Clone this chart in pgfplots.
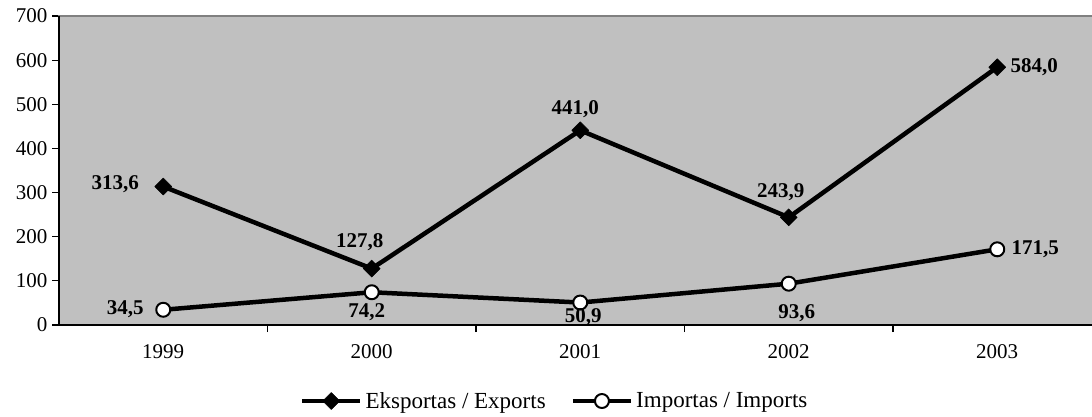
\documentclass[border=0pt]{standalone}
\usepackage{fontspec}
\setmainfont{Liberation Serif}
\usepackage{pgfplots}
\usepackage{pgfplotstable}
\pgfplotsset{compat=1.18}
\definecolor{plotbg}{HTML}{C0C0C0}
\definecolor{frame}{HTML}{808080}

\pgfplotstableread{
x y lab dx dy
0 313.6 313,6 -48 2
1 127.8 127,8 -12 26
2 441.0 441,0 -5 21
3 243.9 243,9 -8 25
4 584.0 584,0 37 0
}\exports

\pgfplotstableread{
x y lab dx dy
0 34.5 34,5 -38 1
1 74.2 74,2 -5 -20
2 50.9 50,9 3 -15
3 93.6 93,6 8 -29
4 171.5 171,5 38 0
}\imports

\begin{document}
\begin{tikzpicture}[x=1pt,y=1pt]
\path[use as bounding box, clip] (0,0) rectangle (1092,416);
\begin{axis}[
  at={(59pt,91pt)}, anchor=south west,
  scale only axis, width=1042.5pt, height=309pt,
  xmin=-0.5, xmax=4.5, ymin=0, ymax=700,
  clip=false,
  axis background/.style={fill=plotbg},
  axis line style={draw=frame, line width=1.5pt},
  xtick={0,1,2,3,4},
  xticklabels={1999,2000,2001,2002,2003},
  minor xtick={0.5,1.5,2.5,3.5},
  ytick={0,100,...,700},
  xtick pos=bottom, ytick pos=left,
  tick align=outside,
  major tick length=7pt, minor tick length=7pt,
  major x tick style={draw=none},
  tick style={black, line width=1.2pt},
  minor x tick style={black, line width=1.2pt},
  ticklabel style={font=\fontsize{21}{21}\selectfont},
  /pgf/number format/assume math mode=true,
  xticklabel style={yshift=-9pt},
  yticklabel style={xshift=-1pt},
  legend style={at={(0.476,-0.246)}, anchor=center, draw=none, fill=none,
    legend columns=2, font=\fontsize{23}{24}\selectfont,
    nodes={inner sep=3pt},
    /tikz/every even column/.append style={column sep=22pt}},
  legend cell align=left,
  legend image code/.code={\draw[#1, mark repeat=2, mark phase=2] plot coordinates {(0pt,0pt) (29pt,0pt) (58pt,0pt)};},
]
\addplot[black, line width=4.5pt, line join=round, mark=square*, mark size=6pt,
  mark options={rotate=45, solid, line width=0.5pt, fill=black},
  nodes near coords, point meta=explicit symbolic,
  visualization depends on={\thisrow{dx}\as\dx},
  visualization depends on={\thisrow{dy}\as\dy},
  every node near coord/.append style={font=\bfseries\fontsize{21}{21}\selectfont, anchor=center, inner sep=0pt, xshift=\dx pt, yshift=\dy pt}]
  table[x=x, y=y, meta=lab]{\exports};
\addlegendentry{Eksportas / Exports}
\addplot[black, line width=4.5pt, line join=round, mark=*, mark size=7pt,
  mark options={solid, line width=2pt, fill=white, draw=black},
  nodes near coords, point meta=explicit symbolic,
  visualization depends on={\thisrow{dx}\as\dx},
  visualization depends on={\thisrow{dy}\as\dy},
  every node near coord/.append style={font=\bfseries\fontsize{21}{21}\selectfont, anchor=center, inner sep=0pt, xshift=\dx pt, yshift=\dy pt}]
  table[x=x, y=y, meta=lab]{\imports};
\addlegendentry{Importas / Imports}
\draw[black, line width=1.5pt] (rel axis cs:0,1) -- (rel axis cs:0,0) -- (rel axis cs:1,0);
\end{axis}
\end{tikzpicture}
\end{document}
